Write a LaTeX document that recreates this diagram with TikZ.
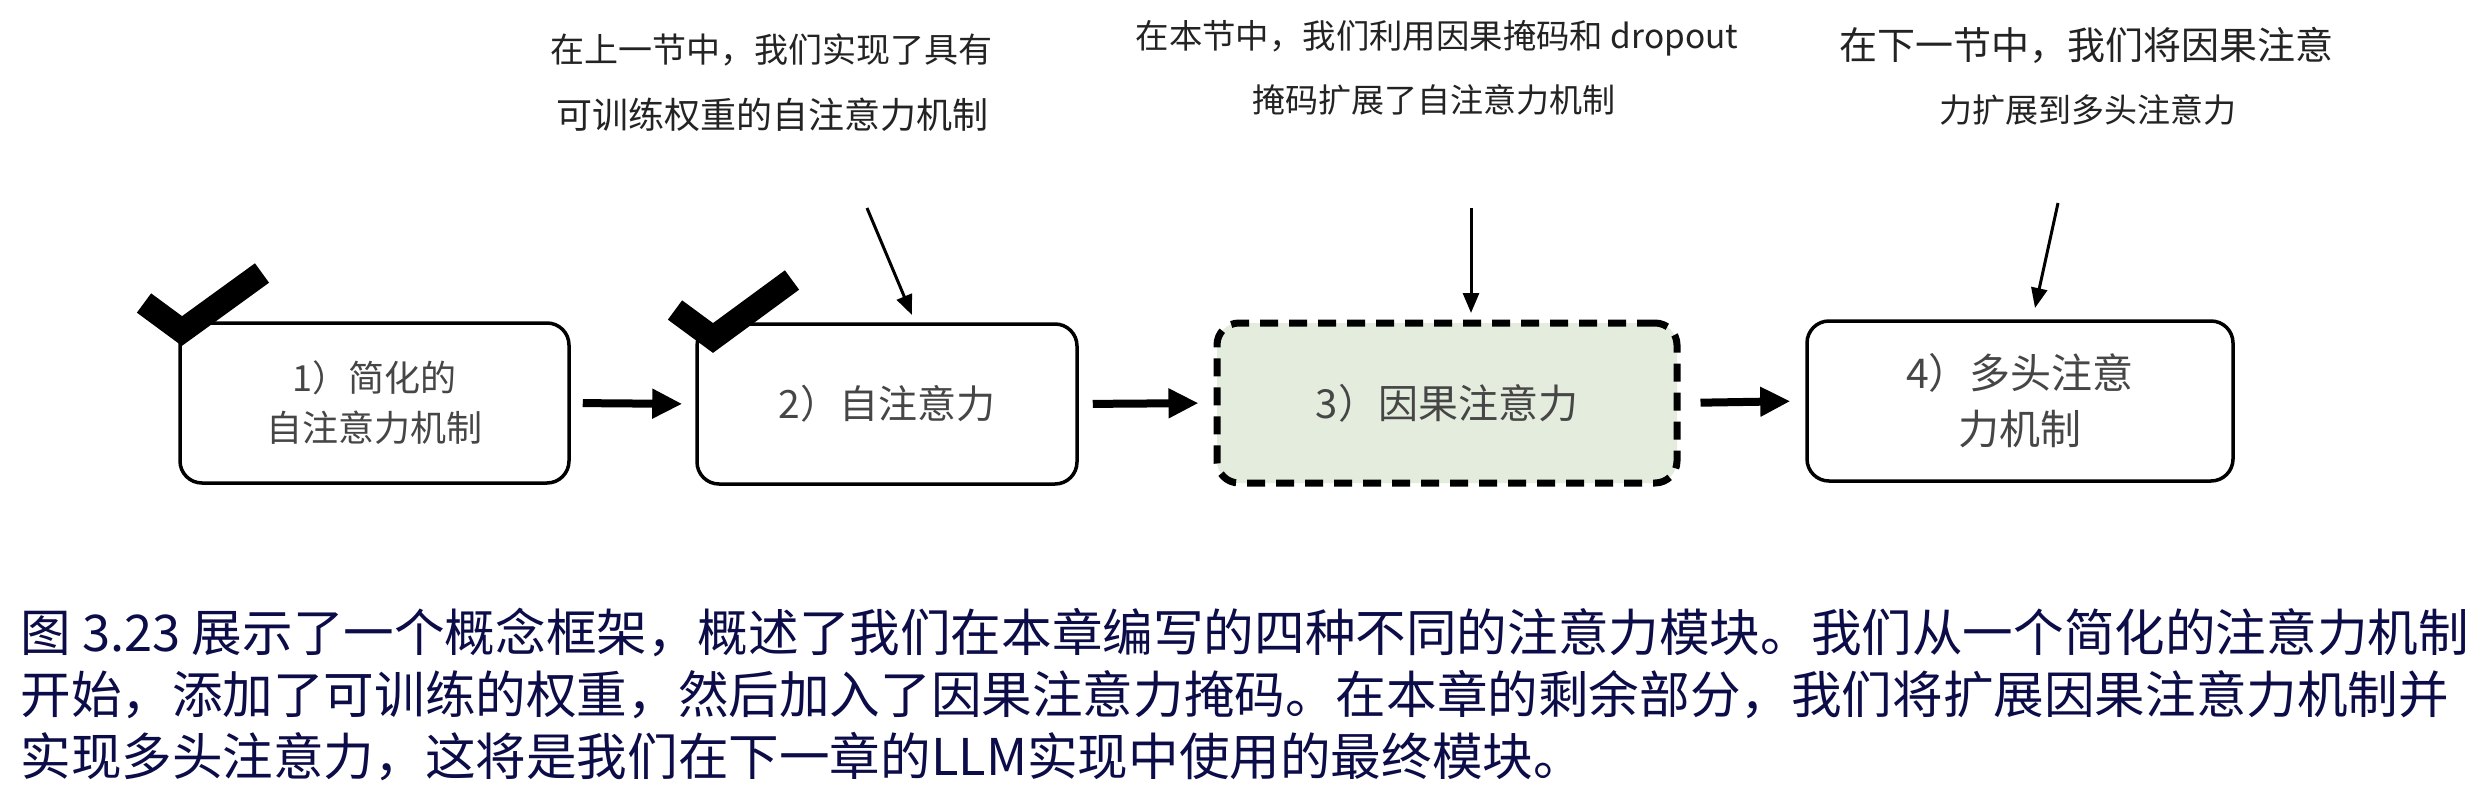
\documentclass[tikz,border=0pt]{standalone}
\usepackage{fontspec}
\setmainfont{Noto Sans CJK SC}
\usetikzlibrary{arrows.meta}
\definecolor{boxtext}{RGB}{70,70,70}
\definecolor{annot}{RGB}{35,35,35}
\definecolor{capcol}{RGB}{12,12,72}
\definecolor{causalfill}{RGB}{227,236,221}
\newcommand\fsz[2]{\fontsize{#1}{#2}\selectfont}
\begin{document}
\begin{tikzpicture}[x=0.5pt,y=-0.5pt,
  stagebox/.style={draw=black, line width=1.75pt, rounded corners=11pt, minimum height=80pt, align=center, text=boxtext, inner sep=0pt},
  causalbox/.style={stagebox, fill=causalfill, line width=3.5pt, dash pattern=on 9pt off 5.5pt},
  flowarrow/.style={line width=4pt, -{Triangle[length=15pt,width=14pt]}},
  notearrow/.style={line width=1.5pt, -{Triangle[length=10pt,width=8pt]}},
  notetext/.style={text=annot, inner sep=0pt},
  captext/.style={text=capcol, inner sep=0pt, anchor=west, font=\fsz{25.3pt}{25.3pt}},
  donemark/.style={line width=12pt, line join=miter, line cap=butt}
]
\fill[white] (0,0) rectangle (2485,803);
\useasboundingbox (0,0) rectangle (2485,803);

% stage boxes
\node[stagebox, minimum width=194.5pt, font=\fsz{18pt}{25pt}] (b1) at (374.5,403)
  {1）简化的\\自注意力机制};
\node[stagebox, minimum width=190pt, font=\fsz{19.5pt}{25pt}] (b2) at (887,404)
  {2）自注意力};
\node[causalbox, minimum width=230pt, font=\fsz{20pt}{25pt}] (b3) at (1447,403)
  {3）因果注意力};
\node[stagebox, minimum width=213pt, font=\fsz{20.5pt}{28pt}] (b4) at (2020,401)
  {4）多头注意\\力机制};

% check marks
\draw[donemark] (144,303) -- (182,331) -- (262,273);
\draw[donemark] (675,310) -- (713,338) -- (792,280);

% flow arrows
\draw[flowarrow, shorten <=6pt, shorten >=6.5pt] (b1.east) -- (b2.west);
\draw[flowarrow, shorten <=7pt, shorten >=7.5pt] (b2.east) -- (b3.west);
\draw[flowarrow, shorten <=10pt, shorten >=7.5pt] (b3.east) -- (b4.west);

% annotations
\node[notetext, font=\fsz{17pt}{17pt}] (t1a) at (771,50) {在上一节中，我们实现了具有};
\node[notetext, font=\fsz{18pt}{18pt}] (t1b) at (772,115) {可训练权重的自注意力机制};
\node[notetext, font=\fsz{16.7pt}{16.7pt}] (t2a) at (1437,38) {在本节中，我们利用因果掩码和 dropout};
\node[notetext, font=\fsz{16.5pt}{16.5pt}] (t2b) at (1434,100) {掩码扩展了自注意力机制};
\node[notetext, font=\fsz{19pt}{19pt}] (t3a) at (2086,45) {在下一节中，我们将因果注意};
\node[notetext, font=\fsz{16.5pt}{16.5pt}] (t3b) at (2088,110) {力扩展到多头注意力};

\coordinate (a1s) at (867,208);
\coordinate (a1e) at (912,315);
\coordinate (a2s) at (1471,208);
\coordinate (a2e) at (1471,313);
\coordinate (a3s) at (2058,203);
\coordinate (a3e) at (2035,308);
\draw[notearrow] (a1s) -- (a1e);
\draw[notearrow] (a2s) -- (a2e);
\draw[notearrow] (a3s) -- (a3e);

% caption
\node[captext] (c1) at (20,633) {图 3.23 展示了一个概念框架，概述了我们在本章编写的四种不同的注意力模块。我们从一个简化的注意力机制};
\node[captext] (c2) at (20,695) {开始，添加了可训练的权重，然后加入了因果注意力掩码。在本章的剩余部分，我们将扩展因果注意力机制并};
\node[captext] (c3) at (20,757) {实现多头注意力，这将是我们在下一章的LLM实现中使用的最终模块。};
\end{tikzpicture}
\end{document}
